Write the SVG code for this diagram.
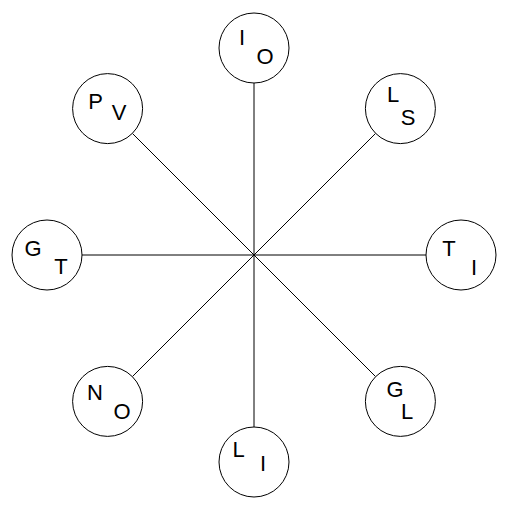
<svg xmlns="http://www.w3.org/2000/svg" width="508" height="510" viewBox="0 0 508 510">
<style>
.n{fill:#fff;stroke:#000;stroke-width:1}
.c{stroke:#000;stroke-width:1;fill:none}
text{font-family:"Liberation Sans",Arial,sans-serif;font-size:22px;fill:#000;text-anchor:middle}
</style>
<rect width="508" height="510" fill="#fff"/>
<g id="connectors">
<line class="c" x1="254" y1="255" x2="254" y2="83"/>
<line class="c" x1="254" y1="255" x2="254" y2="427"/>
<line class="c" x1="254" y1="255" x2="82" y2="255"/>
<line class="c" x1="254" y1="255" x2="426" y2="255"/>
<line class="c" x1="254" y1="255" x2="132.4" y2="133.4"/>
<line class="c" x1="254" y1="255" x2="375.6" y2="133.4"/>
<line class="c" x1="254" y1="255" x2="132.4" y2="376.6"/>
<line class="c" x1="254" y1="255" x2="375.6" y2="376.6"/>
</g>
<g id="node-IO"><circle class="n" cx="254" cy="48" r="35"/><text x="242" y="45">I</text><text x="265" y="64">O</text></g>
<g id="node-LS"><circle class="n" cx="400.4" cy="108.6" r="35"/><text x="393" y="102">L</text><text x="408" y="125">S</text></g>
<g id="node-TI"><circle class="n" cx="461" cy="255" r="35"/><text x="449" y="256">T</text><text x="474" y="275">I</text></g>
<g id="node-GL"><circle class="n" cx="400.4" cy="401.4" r="35"/><text x="395" y="397">G</text><text x="407" y="419">L</text></g>
<g id="node-LI"><circle class="n" cx="254" cy="462" r="35"/><text x="238.5" y="457">L</text><text x="263" y="471">I</text></g>
<g id="node-NO"><circle class="n" cx="107.6" cy="401.4" r="35"/><text x="95" y="400">N</text><text x="122" y="419">O</text></g>
<g id="node-GT"><circle class="n" cx="47" cy="255" r="35"/><text x="33" y="256">G</text><text x="61" y="274">T</text></g>
<g id="node-PV"><circle class="n" cx="107.6" cy="108.6" r="35"/><text x="95.5" y="109">P</text><text x="119" y="120">V</text></g>
</svg>
